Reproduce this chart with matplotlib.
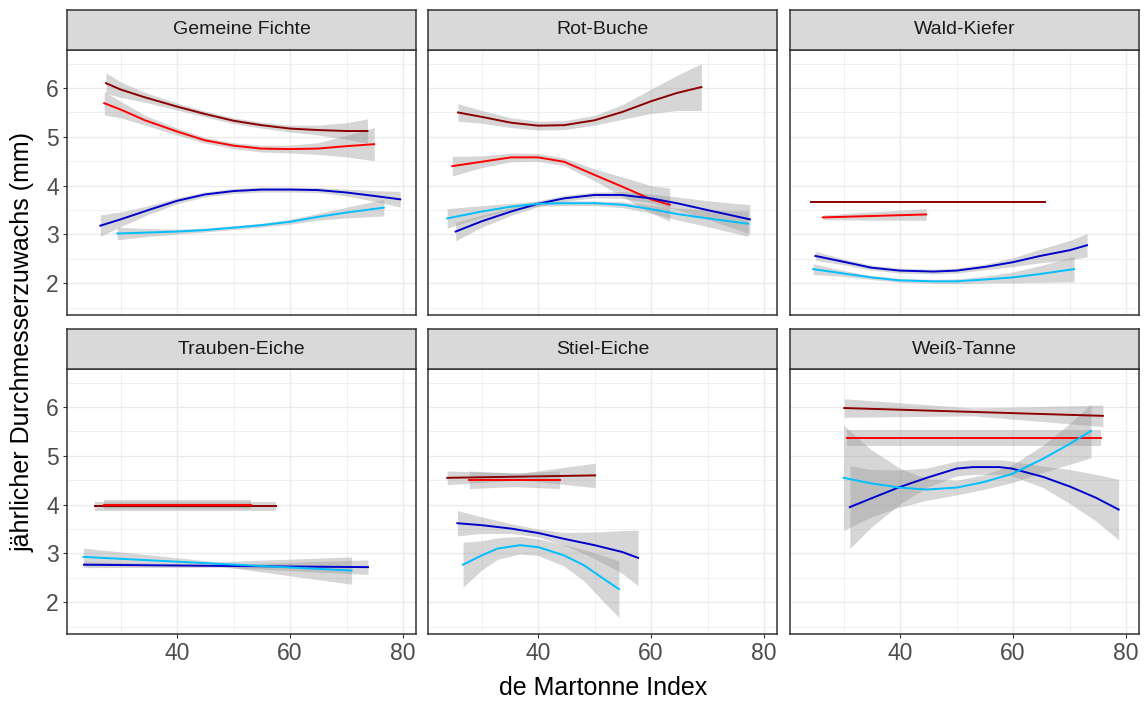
import numpy as np
import matplotlib
matplotlib.use("Agg")
import matplotlib.pyplot as plt

plt.rcParams['font.family'] = ['Liberation Sans', 'DejaVu Sans']

species = ["Gemeine Fichte", "Rot-Buche", "Wald-Kiefer",
           "Trauben-Eiche", "Stiel-Eiche", "Weiß-Tanne"]
line_colors = ["#8B0000", "#FF0000", "#0000CD", "#00BFFF"]

x_ticks = [40, 60, 80]
y_ticks = [2, 3, 4, 5, 6]

# one entry per curve: (x, fitted y, half width of the confidence band)
fichte = [
    ([27.4, 30, 34.3, 40, 44.9, 50, 54.9, 60, 64.9, 70, 73.7],
     [6.10, 5.97, 5.81, 5.62, 5.47, 5.33, 5.24, 5.17, 5.14, 5.12, 5.12],
     [0.21, 0.16, 0.10, 0.07, 0.06, 0.06, 0.06, 0.07, 0.10, 0.17, 0.25]),
    ([27.1, 30, 34.3, 40, 44.9, 50, 54.9, 60, 64.9, 70, 74.9],
     [5.69, 5.56, 5.34, 5.11, 4.93, 4.82, 4.76, 4.75, 4.76, 4.81, 4.85],
     [0.24, 0.17, 0.10, 0.07, 0.06, 0.06, 0.07, 0.08, 0.12, 0.22, 0.34]),
    ([26.4, 30, 34.9, 40, 44.9, 50, 54.9, 60, 64.9, 70, 74.9, 79.5],
     [3.18, 3.31, 3.50, 3.69, 3.82, 3.89, 3.92, 3.92, 3.91, 3.86, 3.79, 3.72],
     [0.22, 0.15, 0.09, 0.06, 0.05, 0.05, 0.05, 0.05, 0.05, 0.07, 0.11, 0.16]),
    ([29.4, 34.9, 40, 44.9, 50, 54.9, 60, 64.9, 70, 76.6],
     [3.02, 3.04, 3.06, 3.09, 3.14, 3.19, 3.26, 3.36, 3.45, 3.55],
     [0.13, 0.08, 0.05, 0.04, 0.04, 0.04, 0.05, 0.07, 0.11, 0.17]),
]
buche = [
    ([25.8, 30, 35.2, 40, 44.6, 50, 54.9, 60, 64.6, 68.9],
     [5.50, 5.41, 5.29, 5.23, 5.24, 5.34, 5.51, 5.73, 5.90, 6.02],
     [0.18, 0.13, 0.10, 0.09, 0.09, 0.10, 0.15, 0.25, 0.36, 0.48]),
    ([24.8, 30, 35.2, 40, 44.6, 50, 54.9, 60, 63.3],
     [4.40, 4.49, 4.58, 4.58, 4.49, 4.22, 3.98, 3.72, 3.61],
     [0.20, 0.12, 0.09, 0.08, 0.08, 0.12, 0.20, 0.28, 0.34]),
    ([25.4, 30, 35.2, 40, 44.6, 50, 54.9, 60, 64.6, 70, 77.5],
     [3.06, 3.27, 3.47, 3.63, 3.74, 3.81, 3.81, 3.74, 3.64, 3.50, 3.31],
     [0.19, 0.12, 0.08, 0.06, 0.06, 0.06, 0.07, 0.09, 0.13, 0.19, 0.30]),
    ([23.9, 30, 35.2, 40, 44.6, 50, 54.9, 60, 64.6, 70, 77.2],
     [3.33, 3.47, 3.57, 3.63, 3.64, 3.64, 3.61, 3.52, 3.42, 3.33, 3.22],
     [0.20, 0.12, 0.07, 0.05, 0.05, 0.05, 0.06, 0.08, 0.12, 0.17, 0.26]),
]
kiefer = [
    ([24.2, 65.6], [3.67, 3.67], [0.02, 0.02]),
    ([26.3, 44.6], [3.35, 3.41], [0.05, 0.12]),
    ([25.0, 30, 34.9, 39.9, 45.9, 50, 55.3, 59.9, 64.8, 70.1, 73.1],
     [2.56, 2.44, 2.32, 2.26, 2.24, 2.26, 2.34, 2.43, 2.56, 2.68, 2.78],
     [0.09, 0.06, 0.05, 0.05, 0.05, 0.05, 0.06, 0.09, 0.14, 0.20, 0.24]),
    ([24.6, 30, 34.9, 39.9, 45.9, 50, 55.3, 59.9, 64.8, 70.8],
     [2.29, 2.20, 2.12, 2.06, 2.04, 2.04, 2.08, 2.12, 2.19, 2.29],
     [0.11, 0.06, 0.04, 0.04, 0.04, 0.05, 0.07, 0.11, 0.17, 0.26]),
]
traubeneiche = [
    ([25.5, 57.5], [3.97, 3.97], [0.09, 0.09]),
    ([27.0, 53.1], [4.00, 4.00], [0.09, 0.09]),
    ([23.5, 48, 73.8], [2.77, 2.745, 2.72], [0.06, 0.03, 0.15]),
    ([23.4, 47, 70.9], [2.93, 2.79, 2.65], [0.18, 0.04, 0.28]),
]
stieleiche = [
    ([23.9, 37, 50.1], [4.55, 4.575, 4.60], [0.14, 0.07, 0.25]),
    ([27.8, 35.8, 43.8], [4.51, 4.51, 4.51], [0.18, 0.14, 0.18]),
    ([25.7, 30, 35.2, 40, 44.6, 50, 54.9, 57.7],
     [3.62, 3.58, 3.51, 3.42, 3.30, 3.17, 3.03, 2.91],
     [0.26, 0.17, 0.10, 0.08, 0.13, 0.27, 0.44, 0.57]),
    ([26.7, 30, 32.8, 36.8, 40, 44.6, 48.1, 51.1, 54.3],
     [2.77, 2.96, 3.10, 3.17, 3.13, 2.96, 2.76, 2.52, 2.27],
     [0.46, 0.30, 0.22, 0.18, 0.17, 0.22, 0.32, 0.45, 0.58]),
]
tanne = [
    ([30.1, 53, 75.9], [5.98, 5.90, 5.82], [0.19, 0.08, 0.22]),
    ([30.6, 53, 75.6], [5.37, 5.37, 5.37], [0.16, 0.16, 0.16]),
    ([31.1, 34.7, 39.9, 44.7, 50, 52.9, 57.6, 59.8, 65.3, 70.1, 74.7, 78.7],
     [3.95, 4.12, 4.36, 4.55, 4.74, 4.77, 4.77, 4.74, 4.57, 4.37, 4.14, 3.90],
     [0.85, 0.60, 0.35, 0.20, 0.15, 0.15, 0.15, 0.15, 0.22, 0.35, 0.48, 0.62]),
    ([30, 34.7, 39.9, 44.7, 50, 54.7, 59.8, 65.3, 70.1, 73.8],
     [4.55, 4.44, 4.35, 4.31, 4.35, 4.46, 4.63, 4.94, 5.25, 5.51],
     [1.08, 0.70, 0.40, 0.22, 0.15, 0.15, 0.18, 0.28, 0.42, 0.55]),
]
curves = [fichte, buche, kiefer, traubeneiche, stieleiche, tanne]

W, H = 1146, 704
fig = plt.figure(figsize=(W / 100, H / 100), dpi=100)

lefts = [67, 428, 790]
tops = [50, 369]
pw, ph, strip_h = 349, 265, 40
frame = "#333333"
grid_col = "#EBEBEB"

for i, name in enumerate(species):
    row, col = divmod(i, 3)
    l, t = lefts[col], tops[row]
    ax = fig.add_axes([l / W, 1 - (t + ph) / H, pw / W, ph / H])
    sax = fig.add_axes([l / W, 1 - t / H, pw / W, strip_h / H])

    # facet strip
    sax.set_facecolor("#D9D9D9")
    sax.set_xticks([])
    sax.set_yticks([])
    for s in sax.spines.values():
        s.set_color(frame)
        s.set_linewidth(1.1)
    sax.text(0.5, 0.5, name, ha="center", va="center", fontsize=14,
             color="#1A1A1A", transform=sax.transAxes)

    ax.set_xlim(20.5, 82.3)
    ax.set_ylim(1.35, 6.78)
    ax.set_xticks(x_ticks)
    ax.set_yticks(y_ticks)
    ax.set_xticks([30, 50, 70], minor=True)
    ax.set_yticks([1.5, 2.5, 3.5, 4.5, 5.5, 6.5], minor=True)
    ax.grid(which="major", color=grid_col, lw=1.0)
    ax.grid(which="minor", color=grid_col, lw=0.5)
    ax.set_axisbelow(True)
    for s in ax.spines.values():
        s.set_color(frame)
        s.set_linewidth(1.1)
    ax.tick_params(which="minor", length=0)
    ax.tick_params(which="major", length=3, width=0.8, color=frame,
                   labelsize=16.5, labelcolor="#4D4D4D", pad=3)
    if col != 0:
        ax.tick_params(left=False, labelleft=False)
    if row != 1:
        ax.tick_params(bottom=False, labelbottom=False)

    for color, (xs, ys, hw) in zip(line_colors, curves[i]):
        xs, ys, hw = np.array(xs), np.array(ys), np.array(hw)
        ax.fill_between(xs, ys - hw, ys + hw, color="#999999", alpha=0.4, lw=0)
        ax.plot(xs, ys, color=color, lw=1.4)

fig.text(603 / W, 1 - 688 / H, "de Martonne Index", ha="center", va="center",
         fontsize=18, color="black")
fig.text(23 / W, 1 - 342 / H, "jährlicher Durchmesserzuwachs (mm)", ha="center",
         va="center", rotation=90, fontsize=18, color="black")

fig.savefig("out.png", dpi=100, facecolor="white")
